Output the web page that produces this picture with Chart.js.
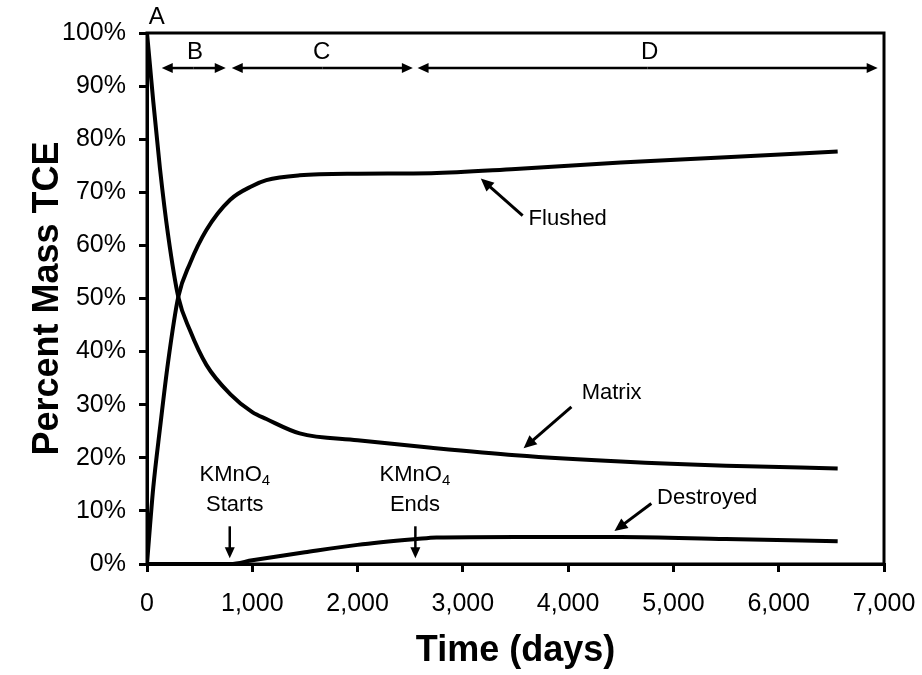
<!DOCTYPE html>
<html><head><meta charset="utf-8">
<script src="https://cdn.jsdelivr.net/npm/chart.js@4/dist/chart.umd.min.js"></script>
<style>html,body{margin:0;padding:0;background:#fff}</style>
</head><body>
<canvas id="c" width="922" height="675" style="width:922px;height:675px;display:block"></canvas>
<script>
// ---- data (days, percent) ----
const days         = [0, 30, 60, 123, 200, 297, 408, 564, 790, 1000, 1134, 1450, 2000, 2700, 3500, 4500, 5500, 6560];
const flushedPct   = [0, 7.5, 14.5, 25.5, 38, 50.3, 56.6, 62.9, 68.6, 71.2, 72.3, 73.2, 73.5, 73.6, 74.4, 75.6, 76.6, 77.7];
const matrixPct    = [100, 93.5, 87, 74.5, 62, 50.3, 44, 37.5, 32, 28.6, 27.3, 24.6, 23.3, 21.9, 20.5, 19.3, 18.5, 18];
const destroyedDays = [0, 790, 1000, 1500, 2000, 2560, 2750, 3500, 4500, 5500, 6560];
const destroyedPct  = [0, 0, 0.7, 2.2, 3.6, 4.7, 5.0, 5.1, 5.1, 4.7, 4.3];
const xTicks = [0, 1000, 2000, 3000, 4000, 5000, 6000, 7000];
const yTicks = [0, 10, 20, 30, 40, 50, 60, 70, 80, 90, 100];

// ---- annotations (in data units) ----
const phaseLabels = [
  {text: 'A', x: 92, y: 103},
  {text: 'B', x: 455, y: 96.4},
  {text: 'C', x: 1660, y: 96.4},
  {text: 'D', x: 4775, y: 96.4}
];
const phaseSpans = [[140, 748], [805, 2525], [2570, 6940]];
const phaseArrowY = 93.4;
const curveLabels = [
  {text: 'Flushed', x: 3996, y: 65, from: [3568, 65.6], to: [3170, 72.6]},
  {text: 'Matrix', x: 4413, y: 32.2, from: [4031, 29.6], to: [3577, 21.8]},
  {text: 'Destroyed', x: 5321, y: 12.4, from: [4790, 11.4], to: [4440, 6.2]}
];
const kmno4Labels = [
  {word: 'Starts', x: 834, arrowX: 786},
  {word: 'Ends', x: 2545, arrowX: 2549}
];

const FONT = '"Liberation Sans", Arial, sans-serif';

function pairs(xs, ys) { return xs.map((x, i) => ({x, y: ys[i]})); }

function drawArrow(ctx, x1, y1, x2, y2, head, half) {
  const a = Math.atan2(y2 - y1, x2 - x1);
  const c = Math.cos(a), s = Math.sin(a);
  ctx.beginPath();
  ctx.moveTo(x1, y1);
  ctx.lineTo(x2 - head * 0.7 * c, y2 - head * 0.7 * s);
  ctx.stroke();
  ctx.beginPath();
  ctx.moveTo(x2, y2);
  ctx.lineTo(x2 - head * c + half * s, y2 - head * s - half * c);
  ctx.lineTo(x2 - head * c - half * s, y2 - head * s + half * c);
  ctx.closePath();
  ctx.fill();
}

const annotate = {
  id: 'annotate',
  afterDatasetsDraw(chart) {
    const {ctx, chartArea: ca, scales: {x, y}} = chart;
    ctx.save();
    ctx.strokeStyle = '#000';
    ctx.fillStyle = '#000';
    ctx.lineWidth = 3;
    ctx.strokeRect(ca.left, ca.top, ca.right - ca.left, ca.bottom - ca.top);
    ctx.textAlign = 'center';
    ctx.textBaseline = 'middle';
    ctx.font = '24px ' + FONT;
    phaseLabels.forEach(p => ctx.fillText(p.text, x.getPixelForValue(p.x), y.getPixelForValue(p.y)));
    ctx.lineWidth = 2.5;
    const ay = y.getPixelForValue(phaseArrowY);
    phaseSpans.forEach(([a, b]) => {
      const xa = x.getPixelForValue(a), xb = x.getPixelForValue(b);
      const mid = (xa + xb) / 2;
      drawArrow(ctx, mid, ay, xa, ay, 11, 5);
      drawArrow(ctx, mid, ay, xb, ay, 11, 5);
    });
    ctx.font = '22px ' + FONT;
    ctx.lineWidth = 3;
    curveLabels.forEach(c => {
      ctx.fillText(c.text, x.getPixelForValue(c.x), y.getPixelForValue(c.y));
      drawArrow(ctx, x.getPixelForValue(c.from[0]), y.getPixelForValue(c.from[1]),
                x.getPixelForValue(c.to[0]), y.getPixelForValue(c.to[1]), 13, 6);
    });
    kmno4Labels.forEach(k => {
      const cx = x.getPixelForValue(k.x);
      const y1 = y.getPixelForValue(16.8), y2 = y.getPixelForValue(11.2);
      ctx.font = '22px ' + FONT;
      const w1 = ctx.measureText('KMnO').width;
      ctx.font = '15px ' + FONT;
      const w2 = ctx.measureText('4').width;
      const left = cx - (w1 + w2) / 2;
      ctx.textAlign = 'left';
      ctx.font = '22px ' + FONT;
      ctx.fillText('KMnO', left, y1);
      ctx.font = '15px ' + FONT;
      ctx.fillText('4', left + w1, y1 + 6);
      ctx.textAlign = 'center';
      ctx.font = '22px ' + FONT;
      ctx.fillText(k.word, cx, y2);
      const axp = x.getPixelForValue(k.arrowX);
      ctx.lineWidth = 2.5;
      drawArrow(ctx, axp, y.getPixelForValue(7.1), axp, y.getPixelForValue(1.1), 11, 5);
    });
    ctx.restore();
  }
};

const lineStyle = {borderColor: '#000', borderWidth: 4, pointRadius: 0, fill: false,
  cubicInterpolationMode: 'monotone', tension: 0.4};

new Chart(document.getElementById('c'), {
  type: 'line',
  data: {
    datasets: [
      Object.assign({label: 'Flushed', data: pairs(days, flushedPct)}, lineStyle),
      Object.assign({label: 'Matrix', data: pairs(days, matrixPct)}, lineStyle),
      Object.assign({label: 'Destroyed', data: pairs(destroyedDays, destroyedPct)}, lineStyle)
    ]
  },
  options: {
    responsive: false,
    animation: false,
    devicePixelRatio: 1,
    layout: {padding: {top: 33, right: 38, left: 0, bottom: 0}},
    plugins: {legend: {display: false}, tooltip: {enabled: false}},
    scales: {
      x: {
        type: 'linear', min: xTicks[0], max: xTicks[xTicks.length - 1],
        afterBuildTicks: s => { s.ticks = xTicks.map(v => ({value: v})); },
        afterFit: s => { s.height = 111; },
        grid: {drawOnChartArea: false, drawTicks: true, tickLength: 8, color: '#000', lineWidth: 3},
        border: {display: true, color: '#000', width: 3},
        ticks: {color: '#000', padding: 4, maxRotation: 0,
          font: {family: FONT, size: 25, lineHeight: 2.24},
          callback: v => v.toLocaleString('en-US')},
        title: {display: true, text: 'Time (days)', color: '#000',
          font: {family: FONT, size: 36, weight: 'bold'}, padding: {top: 0, bottom: 2}}
      },
      y: {
        type: 'linear', min: yTicks[0], max: yTicks[yTicks.length - 1],
        afterBuildTicks: s => { s.ticks = yTicks.map(v => ({value: v})); },
        afterFit: s => { s.width = 147; },
        grid: {drawOnChartArea: false, drawTicks: true, tickLength: 8, color: '#000', lineWidth: 3},
        border: {display: true, color: '#000', width: 3},
        ticks: {color: '#000', padding: 13,
          font: {family: FONT, size: 25},
          callback: v => v + '%'},
        title: {display: true, text: 'Percent Mass TCE', color: '#000',
          font: {family: FONT, size: 36, weight: 'bold'}, padding: {top: 26, bottom: 0}}
      }
    }
  },
  plugins: [annotate]
});
</script>
</body></html>
